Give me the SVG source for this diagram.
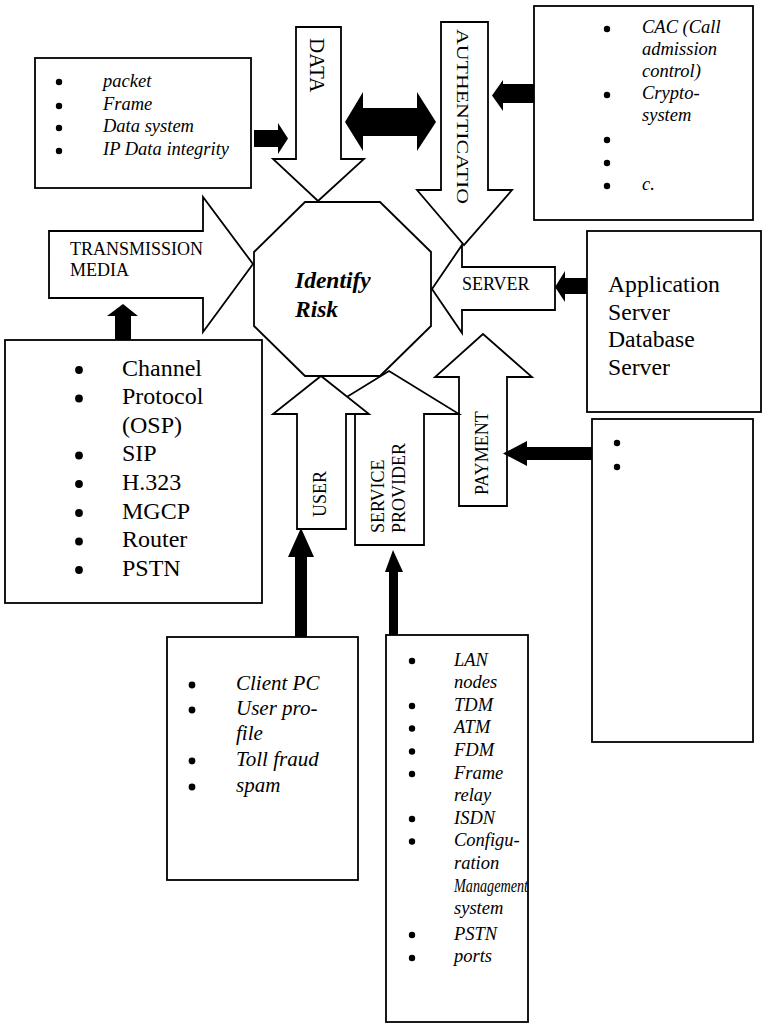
<svg xmlns="http://www.w3.org/2000/svg" width="763" height="1026" viewBox="0 0 763 1026">
  <style>
    .box { fill: #fff; stroke: #000; stroke-width: 1.8; }
    .blk { fill: #000; stroke: none; }
    .dot { fill: #000; stroke: none; }
    .t { font-family: "Liberation Serif", "Times New Roman", serif; fill: #000; }
    .it { font-style: italic; }
    .s18 { font-size: 18.5px; }
    .lbl { font-size: 18px; }
  </style>
  <rect width="763" height="1026" fill="#fff"/>

  <!-- central hub -->
  <g id="identify-risk">
    <polygon class="box" points="305,202 380,202 431,252 431,326 380,376 305,376 254,326 254,252"/>
    <text class="t it" font-weight="bold" font-size="23.5" x="295" y="288">Identify</text>
    <text class="t it" font-weight="bold" font-size="23.5" x="295" y="317">Risk</text>
  </g>

  <!-- block arrows feeding the hub -->
  <g id="data">
    <polygon class="box" points="296,27 341,27 341,159 364,159 318,201 273,159 296,159"/>
    <text class="t" font-size="21" transform="translate(310,38) rotate(90)">DATA</text>
  </g>
  <g id="authentication">
    <polygon class="box" points="441,22 488,22 488,190 512,190 464,245 417,190 441,190"/>
    <text class="t" font-size="21.5" textLength="175" lengthAdjust="spacingAndGlyphs" transform="translate(457,29) rotate(90) scale(1,0.82)">AUTHENTICATIO</text>
  </g>
  <g id="transmission-media">
    <polygon class="box" points="49,231 203,231 203,197 253,264 203,332 203,298 49,298"/>
    <text class="t lbl" x="70" y="255">TRANSMISSION</text>
    <text class="t lbl" x="70" y="276">MEDIA</text>
  </g>
  <g id="server">
    <polygon class="box" points="555,267 462,267 462,245 432,289 462,333 462,310 555,310"/>
    <text class="t lbl" x="462" y="290">SERVER</text>
  </g>
  <g id="payment">
    <polygon class="box" points="459,506 459,377 435,377 483,334 532,377 507,377 507,506"/>
    <text class="t lbl" transform="translate(488,495) rotate(-90)">PAYMENT</text>
  </g>
  <g id="service-provider">
    <polygon class="box" points="355,545 355,414 319,414 389,371 459,414 424,414 424,545"/>
    <text class="t lbl" transform="translate(384,533) rotate(-90)">SERVICE</text>
    <text class="t lbl" transform="translate(405,533) rotate(-90)">PROVIDER</text>
  </g>
  <g id="user">
    <polygon class="box" points="297,529 297,414 273,414 321,376 369,414 346,414 346,529"/>
    <text class="t lbl" transform="translate(326,517) rotate(-90)">USER</text>
  </g>

  <!-- detail boxes -->
  <g id="data-items">
    <rect class="box" x="35" y="58" width="216" height="130"/>
    <circle class="dot" cx="59" cy="82" r="3.2"/><circle class="dot" cx="59" cy="106" r="3.2"/><circle class="dot" cx="59" cy="128" r="3.2"/><circle class="dot" cx="59" cy="151" r="3.2"/>
    <g class="t it s18">
      <text x="103" y="86.5">packet</text>
      <text x="103" y="110">Frame</text>
      <text x="103" y="132">Data system</text>
      <text x="103" y="155">IP Data integrity</text>
    </g>
  </g>

  <g id="auth-items">
    <rect class="box" x="534" y="6" width="219" height="214"/>
    <circle class="dot" cx="607" cy="29" r="3.2"/><circle class="dot" cx="607" cy="95" r="3.2"/><circle class="dot" cx="607" cy="140" r="3.2"/><circle class="dot" cx="607" cy="163" r="3.2"/><circle class="dot" cx="607" cy="186" r="3.2"/>
    <g class="t it s18">
      <text x="642" y="33">CAC (Call</text>
      <text x="642" y="55">admission</text>
      <text x="642" y="77">control)</text>
      <text x="642" y="99">Crypto-</text>
      <text x="642" y="121">system</text>
      <text x="642" y="190">c.</text>
    </g>
  </g>

  <g id="server-items">
    <rect class="box" x="587" y="231" width="174" height="181"/>
    <g class="t" font-size="23.7">
      <text x="608" y="292">Application</text>
      <text x="608" y="320">Server</text>
      <text x="608" y="347">Database</text>
      <text x="608" y="375">Server</text>
    </g>
  </g>

  <g id="media-items">
    <rect class="box" x="5" y="340" width="257" height="263"/>
    <circle class="dot" cx="79" cy="370" r="3.9"/><circle class="dot" cx="79" cy="398.5" r="3.9"/><circle class="dot" cx="79" cy="455.5" r="3.9"/><circle class="dot" cx="79" cy="484" r="3.9"/><circle class="dot" cx="79" cy="513" r="3.9"/><circle class="dot" cx="79" cy="541.5" r="3.9"/><circle class="dot" cx="79" cy="570" r="3.9"/>
    <g class="t" font-size="24">
      <text x="122" y="375.5">Channel</text>
      <text x="122" y="404">Protocol</text>
      <text x="122" y="432.5">(OSP)</text>
      <text x="122" y="461">SIP</text>
      <text x="122" y="490">H.323</text>
      <text x="122" y="518.5">MGCP</text>
      <text x="122" y="547">Router</text>
      <text x="122" y="575.5">PSTN</text>
    </g>
  </g>

  <g id="payment-items">
    <rect class="box" x="592" y="419" width="161" height="323"/>
    <circle class="dot" cx="617" cy="443" r="3.2"/><circle class="dot" cx="617" cy="467" r="3.2"/>
  </g>

  <g id="user-items">
    <rect class="box" x="167" y="637" width="191" height="243"/>
    <circle class="dot" cx="192" cy="685" r="3.4"/><circle class="dot" cx="192" cy="710" r="3.4"/><circle class="dot" cx="192" cy="761" r="3.4"/><circle class="dot" cx="192" cy="787" r="3.4"/>
    <g class="t it" font-size="21">
      <text x="236" y="690">Client PC</text>
      <text x="236" y="715">User pro-</text>
      <text x="236" y="740">file</text>
      <text x="236" y="766">Toll fraud</text>
      <text x="236" y="792">spam</text>
    </g>
  </g>

  <g id="provider-items">
    <rect class="box" x="386" y="635" width="142" height="387"/>
    <circle class="dot" cx="412" cy="661" r="3.2"/><circle class="dot" cx="412" cy="706" r="3.2"/><circle class="dot" cx="412" cy="728.5" r="3.2"/><circle class="dot" cx="412" cy="751.5" r="3.2"/><circle class="dot" cx="412" cy="774" r="3.2"/><circle class="dot" cx="412" cy="819" r="3.2"/><circle class="dot" cx="412" cy="841.5" r="3.2"/><circle class="dot" cx="412" cy="935" r="3.2"/><circle class="dot" cx="412" cy="958" r="3.2"/>
    <g class="t it s18">
      <text x="454" y="665.5">LAN</text>
      <text x="454" y="688">nodes</text>
      <text x="454" y="710.5">TDM</text>
      <text x="454" y="733">ATM</text>
      <text x="454" y="756">FDM</text>
      <text x="454" y="778.5">Frame</text>
      <text x="454" y="801">relay</text>
      <text x="454" y="823.5">ISDN</text>
      <text x="454" y="846">Configu-</text>
      <text x="454" y="869">ration</text>
      <text x="454" y="891.5" textLength="74" lengthAdjust="spacingAndGlyphs">Management</text>
      <text x="454" y="914">system</text>
      <text x="454" y="939.5">PSTN</text>
      <text x="454" y="962">ports</text>
    </g>
  </g>

  <!-- solid connectors -->
  <g id="connectors">
    <polygon class="blk" points="254,130 278,130 278,123 288,138.5 278,154 278,147 254,147"/>
    <polygon class="blk" points="345,122 363,92 363,108 417,108 417,92 436,122 417,151 417,136 363,136 363,151"/>
    <polygon class="blk" points="534,84 503,84 503,80 492,95.5 503,111 503,103 534,103"/>
    <polygon class="blk" points="587,278 565,278 565,271 555,287 565,302 565,294 587,294"/>
    <polygon class="blk" points="115,340 115,316 107,316 123,304 138,316 131,316 131,340"/>
    <polygon class="blk" points="295,637 295,557 288,557 301,528 314,557 307,557 307,637"/>
    <polygon class="blk" points="389,635 389,572 385,572 393,550 403,572 398,572 398,635"/>
    <polygon class="blk" points="592,447 527,447 527,441 503,453.5 527,466 527,460 592,460"/>
  </g>
</svg>
